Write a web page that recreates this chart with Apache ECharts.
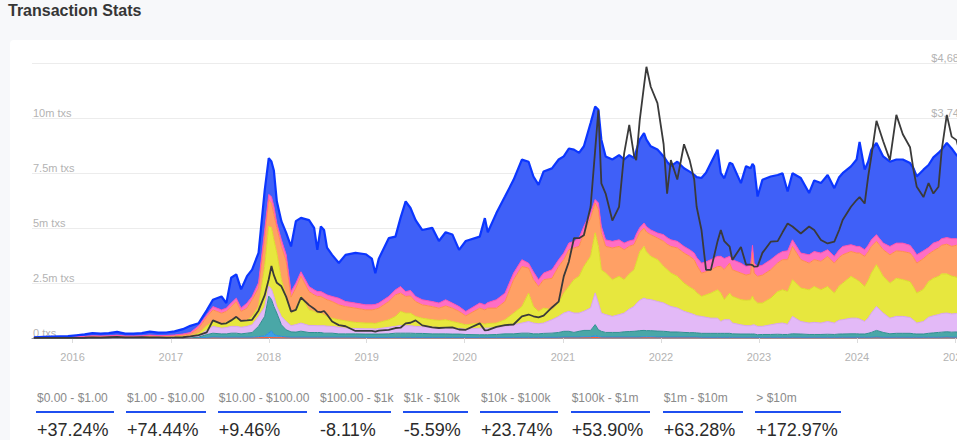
<!DOCTYPE html>
<html><head><meta charset="utf-8">
<script src="https://cdn.jsdelivr.net/npm/echarts@6.0.0/dist/echarts.min.js"></script>
<style>
html,body{margin:0;padding:0;width:957px;height:440px;overflow:hidden;background:#f7f8fa;font-family:"Liberation Sans",Arial,sans-serif;}
#title{position:absolute;left:8px;top:1px;font-size:16px;line-height:20px;font-weight:700;color:#363636;white-space:nowrap;}
#card{position:absolute;left:10px;top:40px;width:1100px;height:500px;background:#fff;border-radius:4px;}
#chart{position:absolute;left:0;top:40px;width:1000px;height:340px;}
.stat{position:absolute;top:391px;height:45px;}
.stat .lab{position:absolute;left:1px;top:0;font-size:12px;line-height:14px;color:#8a8a8a;white-space:nowrap;}
.stat .bar{position:absolute;top:20px;left:0;right:0;height:2px;background:#1f4ff0;}
.stat .num{position:absolute;left:1px;top:29px;font-size:18px;line-height:20px;color:#2b2b2b;white-space:nowrap;}
</style></head><body>
<div id="title">Transaction Stats</div>
<div id="card"></div>
<div id="chart"></div>
<div id="stats"></div>
<script>
const dates = [
'2015-08-10','2015-09-15','2015-10-15','2015-11-15','2015-12-15',
'2016-01-15','2016-02-15','2016-03-15','2016-04-15','2016-05-15','2016-06-15','2016-07-15','2016-08-15','2016-09-15','2016-10-15','2016-11-15','2016-12-15',
'2017-01-15','2017-02-15','2017-03-15','2017-04-15','2017-05-15','2017-06-07','2017-07-09','2017-07-27','2017-08-14','2017-09-02','2017-09-20','2017-10-12','2017-10-31','2017-11-24','2017-12-17',
'2018-01-01','2018-01-11','2018-01-20','2018-01-31','2018-02-17','2018-03-07','2018-03-25','2018-04-12','2018-05-01','2018-05-31','2018-06-19','2018-07-01','2018-07-14','2018-07-26','2018-08-06','2018-08-25','2018-09-19','2018-10-14','2018-11-20','2018-12-28',
'2019-01-20','2019-02-02','2019-02-15','2019-03-24','2019-04-18','2019-05-07','2019-05-26','2019-06-13','2019-07-02','2019-07-27','2019-09-02','2019-09-27','2019-10-22','2019-11-16','2019-12-11',
'2020-01-05','2020-02-26','2020-03-16','2020-03-27','2020-04-28','2020-05-30','2020-07-01','2020-08-01','2020-08-26','2020-09-13','2020-10-02','2020-10-21','2020-11-21','2020-12-16',
'2021-01-04','2021-01-23','2021-02-11','2021-03-02','2021-03-20','2021-04-14','2021-05-01','2021-05-13','2021-05-24','2021-06-09','2021-07-04','2021-07-29','2021-08-17','2021-09-05','2021-09-23','2021-10-01','2021-10-14','2021-10-30','2021-11-08','2021-11-24','2021-12-19',
'2022-01-11','2022-01-24','2022-02-07','2022-03-03','2022-03-28','2022-04-18','2022-05-05','2022-05-14','2022-06-01','2022-06-18','2022-07-06','2022-07-31','2022-08-12','2022-08-25','2022-09-14','2022-09-24','2022-10-26','2022-11-14','2022-12-01','2022-12-08','2022-12-14','2022-12-27',
'2023-01-14','2023-02-14','2023-03-12','2023-03-30','2023-04-18','2023-05-06','2023-06-06','2023-07-07','2023-07-26','2023-08-20','2023-09-14','2023-10-09','2023-10-27','2023-11-09','2023-12-10','2023-12-31',
'2024-01-11','2024-01-30','2024-02-12','2024-02-24','2024-03-14','2024-04-08','2024-05-03','2024-05-27','2024-06-20','2024-07-17','2024-07-30','2024-08-11','2024-09-05','2024-09-24','2024-10-12','2024-10-31','2024-11-12','2024-12-01','2024-12-19',
'2025-01-06','2025-02-01','2025-03-01'
];
// weekly transactions per value bin, millions of txs
const v_gt10m = [
0,0,0,0,0,
0,0,0,0,0,0,0,0,0,0,0,0,
0,0,0,.001,.001,.001,.001,.001,.001,.002,.001,.002,.002,.002,.002,
.003,.003,.002,.002,.002,.002,.002,.002,.002,.002,.002,.002,.002,.002,.002,.002,.002,.002,.002,.002,
.002,.002,.002,.002,.002,.002,.002,.002,.002,.002,.002,.002,.002,.002,.002,
.002,.002,.002,.002,.002,.002,.002,.002,.002,.002,.002,.002,.002,.002,
.003,.003,.003,.003,.003,.003,.004,.003,.003,.003,.003,.003,.003,.003,.003,.003,.003,.003,.003,.003,.003,
.003,.003,.003,.003,.003,.003,.003,.003,.003,.003,.002,.002,.002,.002,.002,.002,.002,.002,.002,.002,.002,.002,
.002,.002,.002,.002,.002,.002,.002,.002,.002,.002,.002,.002,.002,.002,.002,.002,
.002,.002,.002,.003,.003,.002,.002,.002,.002,.002,.002,.002,.002,.002,.002,.002,.003,.003,.003,
.003,.003,.002
];
const v_1m_10m = [
.001,.001,.001,.001,.001,
.001,.001,.001,.001,.001,.001,.001,.001,.001,.001,.001,.001,
.001,.001,.002,.003,.005,.006,.006,.006,.007,.007,.007,.007,.008,.01,.015,
.02,.02,.015,.012,.01,.008,.007,.007,.008,.007,.007,.007,.007,.007,.007,.007,.006,.006,.006,.006,
.006,.006,.006,.006,.007,.007,.007,.007,.007,.006,.006,.006,.006,.006,.006,
.006,.006,.006,.006,.006,.007,.007,.008,.008,.008,.008,.008,.009,.01,
.01,.011,.011,.011,.012,.012,.016,.013,.011,.01,.01,.01,.01,.011,.011,.011,.012,.012,.012,.011,.011,
.011,.01,.01,.01,.01,.01,.01,.01,.009,.009,.009,.009,.009,.009,.009,.009,.009,.009,.009,.009,.009,.008,
.008,.009,.009,.009,.009,.01,.009,.009,.009,.009,.009,.009,.009,.01,.01,.01,
.01,.01,.01,.011,.012,.011,.01,.011,.011,.01,.01,.01,.01,.011,.011,.011,.012,.012,.012,
.012,.011,.011
];
const v_100k_1m = [
.001,.001,.001,.001,.001,
.001,.002,.002,.002,.002,.003,.002,.002,.002,.003,.002,.003,
.003,.004,.006,.01,.02,.04,.03,.03,.03,.03,.03,.03,.03,.05,.08,
.2,.3,.15,.1,.06,.04,.03,.03,.03,.03,.03,.03,.03,.03,.03,.03,.03,.03,.03,.02,
.02,.02,.02,.02,.02,.02,.02,.02,.02,.02,.02,.02,.02,.02,.02,
.02,.02,.02,.02,.02,.02,.02,.02,.02,.02,.02,.02,.02,.02,
.03,.03,.03,.03,.04,.04,.08,.05,.03,.03,.03,.03,.03,.03,.03,.03,.03,.04,.04,.04,.03,
.03,.03,.03,.03,.03,.03,.03,.03,.02,.02,.02,.02,.02,.02,.02,.02,.02,.02,.02,.02,.02,.02,
.02,.02,.02,.02,.02,.02,.02,.02,.02,.02,.02,.02,.02,.02,.02,.02,
.02,.02,.02,.02,.03,.02,.02,.02,.02,.02,.02,.02,.02,.02,.02,.02,.02,.03,.02,
.02,.02,.02
];
const v_10k_100k = [
.001,.001,.001,.002,.002,
.002,.003,.004,.004,.004,.006,.004,.004,.004,.006,.005,.005,
.006,.008,.011,.03,.13,.17,.15,.15,.18,.18,.15,.18,.21,.47,.89,
1.68,1.43,1.27,1.02,.53,.32,.24,.23,.27,.21,.21,.21,.21,.18,.18,.18,.15,.15,.15,.15,
.15,.15,.15,.16,.19,.19,.19,.19,.18,.18,.16,.16,.16,.15,.15,
.13,.12,.12,.12,.13,.16,.16,.19,.19,.16,.16,.18,.19,.22,
.26,.26,.21,.26,.29,.29,.51,.31,.26,.21,.21,.21,.24,.25,.26,.27,.29,.29,.28,.28,.27,
.26,.25,.23,.23,.21,.2,.2,.19,.18,.18,.18,.18,.18,.18,.18,.16,.15,.15,.15,.15,.15,.12,
.13,.13,.14,.13,.13,.16,.15,.13,.13,.13,.14,.13,.15,.15,.16,.16,
.15,.15,.18,.22,.3,.22,.16,.18,.18,.18,.16,.15,.15,.18,.2,.22,.23,.24,.23,
.24,.24,.22
];
const v_1k_10k = [
.001,.002,.002,.003,.003,
.005,.006,.009,.008,.009,.011,.008,.008,.009,.012,.01,.01,
.012,.016,.022,.06,.2,.31,.26,.29,.31,.31,.3,.31,.35,.45,.43,
.45,.47,.46,.3,.38,.38,.28,.34,.37,.32,.32,.31,.31,.34,.32,.31,.3,.26,.24,.24,
.24,.23,.25,.3,.31,.35,.34,.34,.32,.3,.3,.29,.29,.27,.25,
.24,.3,.3,.3,.32,.34,.41,.46,.53,.49,.46,.47,.61,.73,
.83,.91,.88,.83,.87,1.02,1.44,1.22,.83,.81,.73,.81,.85,1.02,1.13,1.25,1.38,1.47,1.43,1.41,1.35,
1.29,1.22,1.16,1.09,.96,.89,.82,.78,.77,.73,.69,.69,.54,.62,.62,.49,.42,.38,.38,.41,.42,.38,
.37,.44,.49,.52,.46,.79,.57,.52,.55,.52,.58,.52,.63,.65,.71,.71,
.68,.57,.7,.88,1.09,.88,.71,.77,.77,.72,.62,.5,.57,.73,.78,.81,.85,.85,.83,
.84,.8,.75
];
const v_100_1k = [
.002,.004,.005,.006,.006,
.01,.013,.018,.016,.018,.022,.016,.017,.018,.023,.019,.02,
.024,.032,.044,.11,.2,.22,.2,.23,.3,.37,.26,.28,.38,.45,1.84,
2.73,2.8,2.57,2.43,1.67,1.14,.55,.75,1.21,.71,.64,.57,.57,.5,.44,.37,.34,.33,.28,.26,
.26,.25,.28,.34,.45,.64,.57,.57,.45,.39,.34,.32,.35,.3,.25,
.2,.23,.18,.21,.2,.3,.53,.75,1.29,.75,.56,.68,.45,.61,
.91,1.13,1.52,1.67,2.04,2.35,2.73,2.57,1.97,1.89,1.67,1.74,1.52,1.6,1.67,1.85,2.2,2.35,2.15,1.97,1.9,
1.66,1.6,1.52,1.44,1.28,1.18,1.13,1.05,.91,1.02,1.14,1.29,1.29,.91,1.21,1.21,1.14,1.15,1.17,1.32,1.14,1.06,
1.06,1.21,1.45,1.51,1.49,1.67,1.52,1.51,1.63,1.51,1.59,1.36,1.55,1.66,1.9,1.75,
1.7,1.59,1.7,1.82,1.9,1.67,1.59,1.73,1.67,1.63,1.5,1.36,1.46,1.62,1.7,1.74,1.8,1.78,1.72,
1.65,1.6,1.5
];
const v_10_100 = [
.005,.009,.011,.013,.014,
.022,.029,.04,.036,.04,.05,.036,.035,.04,.052,.043,.045,
.054,.072,.1,.23,.4,.53,.48,.5,.6,.76,.46,.55,.76,.84,1.36,
1.21,1.1,1.15,1.15,1.51,1.59,.75,.91,.92,.83,.75,.76,.76,.75,.76,.76,.68,.65,.65,.6,
.6,.65,.65,.83,.98,.83,.76,.78,.68,.61,.6,.56,.63,.61,.53,
.41,.68,.65,.7,.68,.83,1.52,1.82,1.14,1.22,1.13,1.29,1.43,1.66,
1.52,1.67,1.44,1.36,1.52,1.74,1.36,1.67,1.67,1.21,1.44,1.36,1.36,1.25,1.14,1.05,.88,.83,.9,.98,.98,
1.14,1.15,1.21,1.29,1.37,1.4,1.37,1.25,1.06,1.05,1.06,1.06,1.21,1.37,1.36,1.21,1.21,1.15,1.18,2.0,1.21,1.21,
1.27,1.29,1.3,1.37,1.45,1.51,1.29,1.21,1.22,1.29,1.37,1.36,1.3,1.29,1.13,1.21,
1.3,1.37,1.3,1.21,1.06,1.21,1.29,1.25,1.28,1.3,1.35,1.36,1.4,1.25,1.25,1.29,1.3,1.35,1.35,
1.45,1.4,1.35
];
const v_1_10 = [
.004,.006,.007,.008,.01,
.014,.019,.026,.024,.026,.034,.024,.025,.026,.035,.029,.03,
.036,.048,.066,.11,.1,.15,.15,.15,.16,.15,.15,.23,.15,.24,.3,
.23,.3,.37,.2,.3,.3,.25,.22,.2,.23,.23,.22,.22,.23,.22,.23,.3,.23,.23,.23,
.23,.22,.23,.23,.23,.3,.22,.25,.23,.23,.23,.23,.28,.23,.22,
.2,.23,.23,.25,.38,.38,.3,.31,.22,.36,.31,.3,.39,.31,
.3,.3,.3,.38,.3,.23,.15,.3,.3,.3,.3,.3,.3,.25,.22,.25,.22,.23,.25,.22,.23,
.3,.3,.3,.3,.3,.3,.3,.35,.45,.45,.46,.46,.46,.5,.31,.46,.45,.39,.4,.3,.45,.45,
.45,.46,.4,.37,.4,.3,.3,.38,.37,.38,.3,.31,.35,.38,.31,.3,
.3,.3,.3,.3,.3,.3,.38,.35,.38,.35,.35,.38,.35,.3,.35,.3,.3,.3,.35,
.3,.3,.3
];
const v_0_1 = [
.016,.027,.033,.037,.044,
.066,.088,.121,.11,.121,.154,.11,.109,.121,.159,.132,.137,
.165,.22,.301,.12,.2,.31,.61,.23,1.15,1.08,.85,1.22,1.22,1.36,1.8,
1.65,1.6,1.63,1.0,.85,1.0,2.05,2.82,2.45,3.02,2.82,1.9,2.96,2.87,2.15,1.89,1.6,2.12,2.28,2.3,
2.1,1.42,2.02,2.65,2.42,3.12,4.1,3.75,3.47,3.17,3.35,2.82,3.07,3.12,2.58,
3.2,3.02,3.94,3.2,3.94,4.39,4.24,4.55,4.61,4.33,4.31,4.62,4.61,4.55,
4.39,4.3,4.17,3.87,3.64,4.09,4.23,4.24,3.94,3.79,3.72,3.85,3.8,3.9,3.72,3.8,4.0,4.09,3.95,3.8,3.79,
3.56,3.45,3.35,3.62,3.55,3.55,3.55,3.65,3.87,4.05,4.39,4.85,3.78,3.65,4.25,4.35,3.64,4.56,4.4,3.7,4.41,3.18,
3.88,3.78,3.6,3.56,2.7,3.03,3.41,2.81,3.23,3.18,3.4,3.1,3.3,3.33,3.56,3.95,
4.75,3.64,3.8,4.1,4.17,3.94,3.85,3.8,3.8,3.74,3.7,3.56,3.69,3.75,3.9,4.02,4.05,4.3,4.1,
3.8,3.64,3.46
];
// ETH price, USD
const v_price = [
1.2,0.9,0.6,0.9,0.9,
1.6,4.5,12,8,13,18,11,11,12.5,12,10,8,
10,13,28,48,95,300,240,250,300,360,290,300,310,470,730,
1000,1226,1070,940,880,700,450,480,690,560,500,450,440,460,400,280,220,200,120,120,
120,108,125,138,170,175,250,260,300,215,180,170,175,180,145,
140,250,130,135,190,220,230,370,400,370,350,380,520,620,
1050,1300,1700,1700,1750,2235,3200,3880,2635,2460,2000,2235,3145,3630,3100,3030,3710,4300,4620,4280,4000,
3300,2460,3030,2700,3300,3030,2700,2235,1840,1160,1160,1650,1840,1650,1555,1330,1550,1250,1250,1240,1215,1220,
1450,1640,1650,1800,1950,1900,1780,1900,1840,1670,1610,1640,1840,2010,2235,2350,
2400,2290,2750,3100,3700,3350,3030,3800,3470,3250,2860,2575,2400,2640,2460,2575,3200,3800,3430,
3370,2900,2200
];
const txTicks = [0, 2.5, 5, 7.5, 10, 12.5];
const priceMax = 4684;
const statLabels = ['$0.00 - $1.00','$1.00 - $10.00','$10.00 - $100.00','$100.00 - $1k','$1k - $10k','$10k - $100k','$100k - $1m','$1m - $10m','> $10m'];
const statChanges = ['+37.24%','+74.44%','+9.46%','-8.11%','-5.59%','+23.74%','+53.90%','+63.28%','+172.97%'];

// layout (styles, not data)
const statLeft = [36,126,217.7,319,402.7,480,570.7,662.7,755.3];
const statWidth = [78,80,89,72,65.6,77.7,79.3,80,85.4];
const statsEl = document.getElementById('stats');
statLabels.forEach((lab, i) => {
  const d = document.createElement('div');
  d.className = 'stat';
  d.style.left = statLeft[i] + 'px';
  d.style.width = statWidth[i] + 'px';
  const l = document.createElement('div'); l.className = 'lab'; l.textContent = lab;
  const b = document.createElement('div'); b.className = 'bar';
  const n = document.createElement('div'); n.className = 'num'; n.textContent = statChanges[i];
  d.appendChild(l); d.appendChild(b); d.appendChild(n);
  statsEl.appendChild(d);
});

const bins = [
  {name:'> $10m', values:v_gt10m, fill:'#9a5ad8', edge:'#9a5ad8', w:0.5},
  {name:'$1m - $10m', values:v_1m_10m, fill:'#ff6a3d', edge:'#ff5a2a', w:1},
  {name:'$100k - $1m', values:v_100k_1m, fill:'#3c9fe6', edge:'#2b8de0', w:1},
  {name:'$10k - $100k', values:v_10k_100k, fill:'#4aa7a7', edge:'#2f8f8f', w:1},
  {name:'$1k - $10k', values:v_1k_10k, fill:'#e3b9f7', edge:'#d7a3f1', w:1},
  {name:'$100.00 - $1k', values:v_100_1k, fill:'#e7e73e', edge:'#dcdc2c', w:1},
  {name:'$10.00 - $100.00', values:v_10_100, fill:'#ffa065', edge:'#ff8c4b', w:1},
  {name:'$1.00 - $10.00', values:v_1_10, fill:'#ff6ec4', edge:'#ff4fae', w:1},
  {name:'$0.00 - $1.00', values:v_0_1, fill:'#3f60f8', edge:'#0b36ff', w:2.2}
];

const series = bins.map(b => ({
  name: b.name, type:'line', stack:'tx', symbol:'none', showSymbol:false,
  data: dates.map((d, i) => [d, b.values[i]]),
  lineStyle:{width:b.w, color:b.edge},
  itemStyle:{color:b.fill},
  areaStyle:{color:b.fill, opacity:1},
  emphasis:{disabled:true}, silent:true
}));
series.push({
  name:'ETH price', type:'line', yAxisIndex:1, symbol:'none', showSymbol:false, z:10,
  data: dates.map((d, i) => [d, v_price[i]]),
  lineStyle:{width:1.8, color:'#3a3a3a'}, itemStyle:{color:'#3a3a3a'},
  emphasis:{disabled:true}, silent:true
});

const chart = echarts.init(document.getElementById('chart'), null, {renderer:'svg'});
const DAY = 864e5;
chart.setOption({
  animation:false,
  textStyle:{fontFamily:'"Liberation Sans", Arial, sans-serif'},
  grid:{left:32, top:23, width:943, height:275},
  xAxis:{
    type:'time', min:+new Date(2015,7,3), max:+new Date(2025,2,16),
    splitNumber:10, minInterval:365*DAY, maxInterval:366*DAY,
    axisLine:{show:true, lineStyle:{color:'#9a9a9a'}},
    axisTick:{show:true, length:5, lineStyle:{color:'#dcdcdc'}},
    axisLabel:{color:'#b3b3b3', fontSize:11, margin:13, formatter:'{yyyy}', showMinLabel:false, showMaxLabel:false},
    splitLine:{show:false}
  },
  yAxis:[
    {type:'value', min:txTicks[0], max:txTicks[txTicks.length-1], interval:txTicks[1]-txTicks[0],
     axisLine:{show:false}, axisTick:{show:false},
     splitLine:{lineStyle:{color:'#ececec'}},
     axisLabel:{inside:true, margin:1, verticalAlign:'bottom', color:'#b3b3b3', fontSize:11, showMaxLabel:false,
       formatter: v => v === 0 ? '0 txs' : v + 'm txs'}},
    {type:'value', min:0, max:priceMax, interval:priceMax/5, position:'right',
     axisLine:{show:false}, axisTick:{show:false}, splitLine:{show:false},
     axisLabel:{inside:true, margin:10, verticalAlign:'bottom', color:'#b3b3b3', fontSize:11, showMinLabel:false,
       formatter: v => '$' + Math.round(v).toLocaleString('en-US')}}
  ],
  series: series
});
</script>
</body></html>
